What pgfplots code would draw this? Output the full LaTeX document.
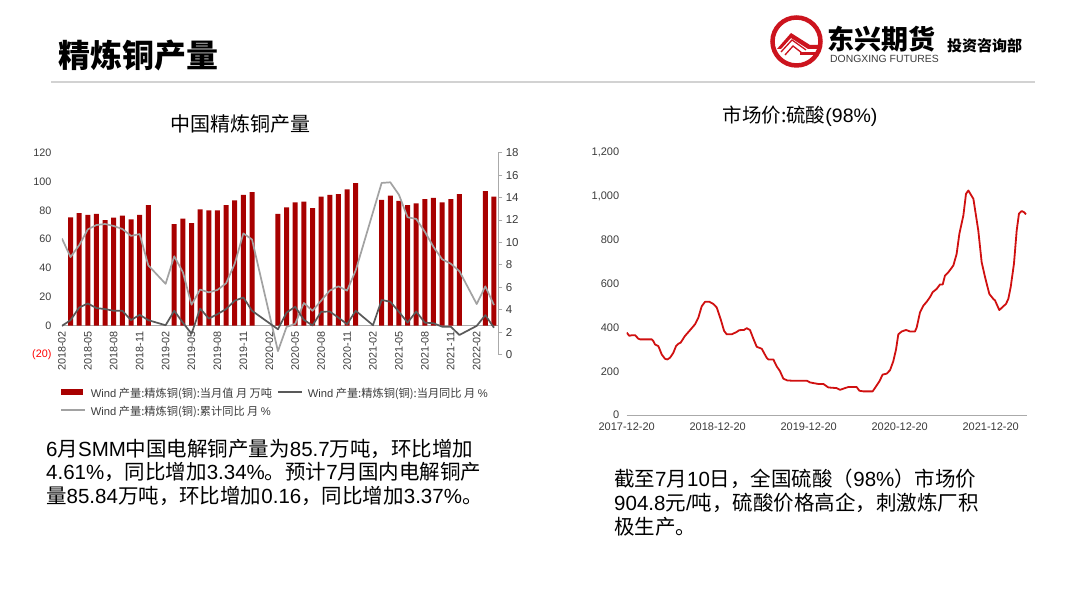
\documentclass[border=0pt]{standalone}
\usepackage{fontspec}
\setmainfont{Noto Sans CJK SC}
\newfontfamily\lib{Liberation Sans}
\newcommand\LS[1]{{\lib #1}}
\usepackage{pgfplots}
\pgfplotsset{compat=1.18}
\definecolor{barred}{RGB}{168,0,0}
\definecolor{darkln}{RGB}{89,89,89}
\definecolor{lightln}{RGB}{162,162,162}
\definecolor{pricered}{RGB}{208,16,16}
\definecolor{tickgray}{RGB}{60,60,60}
\definecolor{axgray}{RGB}{170,170,170}
\definecolor{logored}{RGB}{204,20,30}
\definecolor{rulegray}{RGB}{210,210,210}
\begin{document}
\begin{tikzpicture}
\fill[white] (0pt,0pt) rectangle (1080pt,601pt);
% ---------- left chart ----------
\begin{axis}[
  at={(61.9pt,246.5pt)}, anchor=south west, scale only axis,
  width=436.4pt, height=201.8pt,
  xmin=0, xmax=50.5, ymin=-20, ymax=120,
  axis x line=middle, axis y line=left,
  hide obscured x ticks=false, hide obscured y ticks=false,
  x axis line style={draw=axgray, -, line width=0.8pt},
  y axis line style={draw=none},
  major tick length=0pt,
  xtick={0,3,...,48},
  xticklabels={2018-02,2018-05,2018-08,2018-11,2019-02,2019-05,2019-08,2019-11,2020-02,2020-05,2020-08,2020-11,2021-02,2021-05,2021-08,2021-11,2022-02},
  xticklabel style={inner sep=0pt, yshift=-5.5pt, rotate=90, anchor=east, font=\lib\fontsize{10.8}{12}\selectfont, text=tickgray},
  ytick={-20,0,20,40,60,80,100,120},
  yticklabels={\textcolor{red}{(20)},0,20,40,60,80,100,120},
  yticklabel style={font=\lib\fontsize{10.8}{12}\selectfont, text=tickgray, xshift=-7pt},
  legend columns=2, legend cell align=left,
  legend style={at={(axis description cs:-0.0044,-0.171)}, anchor=north west, draw=none, fill=none, inner sep=0pt,
    font=\fontsize{11.2}{12}\selectfont, text=tickgray,
    /tikz/every odd column/.append style={column sep=5pt},
    /tikz/every even column/.append style={column sep=5pt},
    nodes={inner sep=0pt, text height=8pt, text depth=2pt}, row sep=8pt},
]
\addplot[ybar, bar width=5pt, fill=barred, draw=none,
  legend image code/.code={\fill[barred] (0pt,-0.5pt) rectangle (22pt,5.5pt);}] coordinates {
 (1,75.2) (2,78.0) (3,76.8) (4,77.5) (5,73.3) (6,74.9) (7,76.3) (8,73.8) (9,76.8) (10,83.7)
 (13,70.5) (14,74.2) (15,71.2) (16,80.7) (17,80.0) (18,80.0) (19,83.7) (20,87.0) (21,90.7) (22,92.7)
 (25,77.5) (26,82.1) (27,85.6) (28,86.0) (29,81.6) (30,89.5) (31,90.7) (32,91.3) (33,94.6) (34,98.8)
 (37,87.2) (38,90.2) (39,86.5) (40,83.7) (41,84.9) (42,87.7) (43,88.6) (44,85.6) (45,87.7) (46,91.3)
 (49,93.4) (50,89.5)};
\addlegendentry{\LS{Wind} 产量:精炼铜(铜):当月值 月 万吨}
\addlegendimage{legend image code/.code={\draw[darkln, line width=1.7pt] (0pt,2.5pt) -- (24pt,2.5pt);}}
\addlegendentry{\LS{Wind} 产量:精炼铜(铜):当月同比 月 \LS{\%}}
\addlegendimage{legend image code/.code={\draw[lightln, line width=1.7pt] (0pt,2.5pt) -- (24pt,2.5pt);}}
\addlegendentry{\LS{Wind} 产量:精炼铜(铜):累计同比 月 \LS{\%}}
\end{axis}
\begin{axis}[
  at={(61.9pt,246.5pt)}, anchor=south west, scale only axis,
  width=436.4pt, height=201.8pt,
  xmin=0, xmax=50.5, ymin=0, ymax=18,
  axis x line=none, axis y line*=right,
  ytick={0,2,...,18}, tick align=outside, major tick length=4pt,
  y axis line style={draw=axgray, line width=0.8pt},
  ytick style={draw=axgray, line width=0.8pt},
  yticklabel style={font=\lib\fontsize{11.5}{12}\selectfont, text=tickgray, /pgf/number format/assume math mode=true},
]
\addplot[lightln, line width=1.7pt, line join=round] coordinates {
 (0,10.35) (1,8.69) (2,9.75) (3,11.16) (4,11.55) (5,11.64) (6,11.46) (7,11.19) (8,10.58) (9,10.74) (10,7.95)
 (12,6.30) (13,8.76) (14,7.34) (15,4.44) (16,5.79) (17,5.54) (18,5.76) (19,6.35) (20,8.10) (21,10.80) (22,10.26)
 (25,0.30) (26,2.46) (27,2.73) (28,4.59) (29,3.90) (30,4.80) (31,5.70) (32,6.08) (33,5.70) (34,7.50)
 (37,15.30) (38,15.36) (39,14.25) (40,12.24) (41,12.09) (42,10.95) (43,9.60) (44,8.49) (45,8.10) (46,7.43)
 (48,4.50) (49,6.08) (50,4.41)};
\addplot[darkln, line width=1.7pt, line join=round] coordinates {
 (0,2.55) (1,3.06) (2,4.19) (3,4.55) (4,4.14) (5,4.05) (6,3.90) (7,3.90) (8,3.06) (9,3.54) (10,3.06)
 (12,2.61) (13,3.90) (14,2.84) (15,1.85) (16,4.10) (17,3.20) (18,3.60) (19,4.05) (20,4.80) (21,5.09) (22,3.90)
 (25,2.25) (26,3.74) (27,4.26) (28,3.09) (29,2.59) (30,3.81) (31,3.83) (32,3.29) (33,2.70) (34,3.90)
 (36,2.61) (37,4.86) (38,4.71) (39,3.81) (40,2.84) (41,3.83) (42,2.84) (43,2.79) (44,2.48) (45,2.48) (46,1.74)
 (48,2.55) (49,3.51) (50,2.39)};
\end{axis}
% ---------- right chart ----------
\begin{axis}[
  at={(626.7pt,186pt)}, anchor=south west, scale only axis,
  width=400pt, height=262.3pt,
  xmin=0, xmax=4.396, ymin=0, ymax=1200,
  axis x line=bottom, axis y line=left,
  x axis line style={draw=axgray, -, line width=0.8pt},
  y axis line style={draw=none},
  major tick length=0pt,
  xtick={0,1,2,3,4},
  xticklabels={2017-12-20,2018-12-20,2019-12-20,2020-12-20,2021-12-20},
  xticklabel style={yshift=-4pt},
  ytick={0,200,400,600,800,1000,1200},
  yticklabels={0,200,400,600,800,{1,000},{1,200}},
  yticklabel style={xshift=-4pt},
  tick label style={font=\lib\fontsize{11}{12}\selectfont, text=tickgray},
]
\addplot[pricered, line width=1.8pt, line join=round] coordinates {
 (0,377) (0.029,362) (0.055,365) (0.092,365) (0.128,349) (0.147,346) (0.275,346) (0.293,338)
 (0.311,323) (0.348,315) (0.385,277) (0.421,257) (0.447,254) (0.476,262) (0.513,285) (0.542,315)
 (0.568,326) (0.593,331) (0.641,362) (0.696,388) (0.751,415) (0.788,446) (0.824,497) (0.861,518)
 (0.908,518) (0.952,508) (0.989,492) (1.033,438) (1.070,385) (1.099,369) (1.154,369) (1.209,380)
 (1.238,388) (1.289,389) (1.319,397) (1.355,389) (1.392,349) (1.429,312) (1.484,303) (1.538,262)
 (1.557,254) (1.612,254) (1.648,223) (1.685,200) (1.722,166) (1.766,158) (1.813,157) (1.978,157)
 (2.015,149) (2.051,146) (2.106,142) (2.161,142) (2.216,126) (2.308,123) (2.344,115) (2.399,123)
 (2.436,128) (2.527,128) (2.557,111) (2.601,108) (2.703,108) (2.740,131) (2.777,154) (2.813,185)
 (2.857,189) (2.894,205) (2.930,246) (2.960,300) (2.985,369) (3.022,382) (3.070,389) (3.114,382)
 (3.168,382) (3.187,400) (3.223,469) (3.260,500) (3.297,518) (3.333,539) (3.363,562) (3.407,577)
 (3.443,597) (3.473,597) (3.498,638) (3.535,653) (3.590,684) (3.626,737) (3.656,829) (3.700,913)
 (3.729,1012) (3.755,1027) (3.810,989) (3.864,844) (3.901,699) (3.938,631) (3.985,554) (4.029,531)
 (4.048,524) (4.095,480) (4.139,497) (4.168,508) (4.194,531) (4.220,585) (4.256,692) (4.286,844)
 (4.311,921) (4.341,933) (4.366,928) (4.388,918)};
\end{axis}
\begin{scope}[x=1pt,y=1pt]
% ---------- header ----------
\node[anchor=base west, inner sep=0pt, font=\fontsize{32}{32}\selectfont\bfseries] at (58,533.2) {精炼铜产量};
\draw[rulegray, line width=2.5pt] (51,519) -- (1035,519);
% logo
\draw[logored, line width=4.5pt] (796.5,559.5) circle (24);
\fill[logored] (777,552) -- (791,568) -- (810,556) -- (819,556) -- (819,552) -- (808,552) -- (791,563) -- (781,552) -- cycle;
\draw[logored, line width=1.3pt] (781,549) -- (792,561) -- (806,551);
\draw[logored, line width=1.3pt] (785,546) -- (793,555) -- (802,548);
\fill[logored] (800,546) rectangle (819,549);
\node[anchor=base west, inner sep=0pt, font=\fontsize{27}{27}\selectfont\bfseries] at (827,551.5) {东兴期货};
\node[anchor=base west, inner sep=0pt, font=\lib\fontsize{10.4}{10}\selectfont, text=tickgray] at (830,538) {DONGXING FUTURES};
\node[anchor=base west, inner sep=0pt, font=\fontsize{15}{15}\selectfont\bfseries] at (947,549) {投资咨询部};
% chart titles
\node[font=\fontsize{20}{20}\selectfont] at (240,477) {中国精炼铜产量};
\node[font=\fontsize{19.5}{20}\selectfont] at (800,485) {市场价:硫酸\LS{(98\%)}};
% ---------- commentary ----------
\begin{scope}[every node/.style={anchor=base west, inner sep=0pt, font=\fontsize{20.5}{24}\selectfont}]
\node at (46,144.5) {\LS{6}月\LS{SMM}中国电解铜产量为\LS{85.7}万吨，环比增加};
\node at (46,121) {\LS{4.61\%}，同比增加\LS{3.34\%}。预计\LS{7}月国内电解铜产};
\node at (46,97) {量\LS{85.84}万吨，环比增加\LS{0.16}，同比增加\LS{3.37\%}。};
\node at (614,114.5) {截至\LS{7}月\LS{10}日，全国硫酸（\LS{98\%}）市场价};
\node at (614,90.5) {\LS{904.8}元\LS{/}吨，硫酸价格高企，刺激炼厂积};
\node at (614,66.5) {极生产。};
\end{scope}
\end{scope}
\pgfresetboundingbox
\path[use as bounding box] (0pt,0pt) rectangle (1080pt,601pt);
\end{tikzpicture}
\end{document}
